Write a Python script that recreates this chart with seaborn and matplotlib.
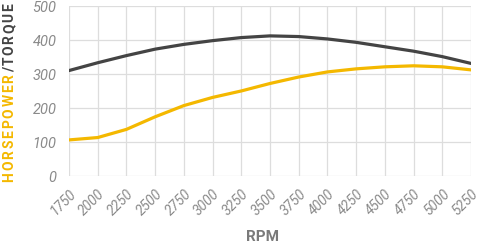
import matplotlib
matplotlib.use("Agg")
import matplotlib.pyplot as plt
import seaborn as sns
import pandas as pd

rpm = [1750, 2000, 2250, 2500, 2750, 3000, 3250, 3500, 3750, 4000, 4250, 4500, 4750, 5000, 5250]
torque = [311, 334, 355, 374, 388, 399, 408, 413, 411, 404, 394, 381, 368, 352, 332]
horsepower = [107, 114, 138, 175, 208, 232, 251, 273, 292, 307, 316, 322, 325, 322, 313]
y_ticks = [0, 100, 200, 300, 400, 500]

HP_COLOR = "#F4B800"
TQ_COLOR = "#444444"
TICK_COLOR = "#8a8a8a"

sns.set_theme(style="white")
plt.rcParams['font.family'] = ['Roboto', 'DejaVu Sans']

df = pd.DataFrame({"rpm": rpm, "torque": torque, "hp": horsepower})

W, H = 482, 244
fig = plt.figure(figsize=(W / 100, H / 100), dpi=100)
ax = fig.add_axes([69 / W, 1 - 176.3 / H, (471 - 69) / W, (176.3 - 6.3) / H])

sns.lineplot(data=df, x="rpm", y="torque", ax=ax, color=TQ_COLOR, linewidth=2.3)
sns.lineplot(data=df, x="rpm", y="hp", ax=ax, color=HP_COLOR, linewidth=2.3)

ax.set_xlim(rpm[0], rpm[-1])
ax.set_ylim(0, 500)
ax.set_xticks(rpm)
ax.set_yticks(y_ticks)
ax.set_xticklabels([str(r) for r in rpm], rotation=45, ha="right", va="top",
                   rotation_mode="anchor", fontsize=10, style="italic", color=TICK_COLOR)
ax.set_yticklabels([str(v) for v in y_ticks], fontsize=10.5, style="italic", color=TICK_COLOR)
ax.tick_params(axis="x", length=0, pad=8)
ax.tick_params(axis="y", length=0, pad=9)
ax.grid(True, color="#dddddd", linewidth=0.9)
ax.set_axisbelow(True)
for s in ax.spines.values():
    s.set_visible(False)
ax.set_xlabel("")
ax.set_ylabel("")

fig.text(262.5 / W, 1 - 241 / H, "RPM", ha="center", va="baseline", fontsize=11,
         fontweight="bold", color="#7a7a7a")

# y label with two colours and letter spacing
fig.canvas.draw()
renderer = fig.canvas.get_renderer()
parts = [("HORSEPOWER", HP_COLOR), ("/TORQUE", TQ_COLOR)]
chars = []
for txt, col in parts:
    for ch in txt:
        t = fig.text(0, 0, ch, fontsize=10, fontweight="bold")
        w = t.get_window_extent(renderer).width
        t.remove()
        chars.append((ch, col, w))
y_start, y_end = H - 181.7, H - 3.0
total = sum(c[2] for c in chars)
track = ((y_end - y_start) - total) / (len(chars) - 1)
y = y_start
x_base = 13.5
for ch, col, w in chars:
    fig.text(x_base / W, y / H, ch, fontsize=10, fontweight="bold", color=col,
             rotation=90, rotation_mode="anchor", ha="left", va="baseline")
    y += w + track

fig.savefig("out.png", dpi=100)
